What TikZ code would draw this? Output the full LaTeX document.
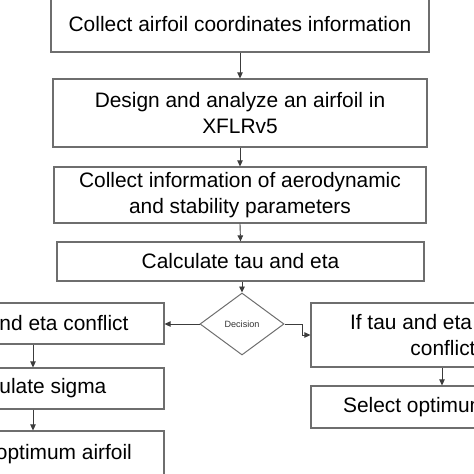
\documentclass[tikz,border=0pt]{standalone}
\usepackage{fontspec}
\setmainfont{Liberation Sans}
\usetikzlibrary{shapes.geometric,arrows.meta}
\definecolor{boxgray}{HTML}{6E6E6E}
\definecolor{linegray}{HTML}{3C3C3C}
\begin{document}
\begin{tikzpicture}[x=1pt,y=-1pt,
  box/.style={draw=boxgray, line width=1.2pt, rectangle, inner sep=0pt, align=center,
    font=\fontsize{20.9}{25.5}\selectfont, text=black},
  conn/.style={draw=linegray, line width=0.9pt, -{Triangle[length=6pt,width=5.5pt]}},
  decision/.style={draw=boxgray, line width=1pt, diamond, inner sep=0pt,
    minimum width=84pt, minimum height=62pt, font=\fontsize{9.1}{11}\selectfont, text=black!80}]
\useasboundingbox (0,0) rectangle (474,474);
\clip (0,0) rectangle (474,474);
\node[box, minimum width=378pt, minimum height=56pt] (b1) at (240,24) {Collect airfoil coordinates information};
\node[box, minimum width=374pt, minimum height=68pt] (b2) at (240,113) {Design and analyze an airfoil in\\XFLRv5};
\node[box, minimum width=372pt, minimum height=56pt] (b3) at (240,195) {Collect information of aerodynamic\\and stability parameters};
\node[box, minimum width=367pt, minimum height=39pt] (b4) at (240.5,261.5) {Calculate tau and eta};
\node[decision] (d) at (242,324) {Decision};
\node[box, minimum width=264pt, minimum height=41pt] (l1) at (32,323.5) {If tau and eta conflict};
\node[box, minimum width=264pt, minimum height=41pt] (l2) at (32,388.5) {Calculate sigma};
\node[box, minimum width=264pt, minimum height=46pt] (l3) at (32,454) {Select optimum airfoil};
\node[box, minimum width=264pt, minimum height=64pt] (r1) at (443,335) {If tau and eta do not\\conflict};
\node[box, minimum width=264pt, minimum height=42pt] (r2) at (443,407) {Select optimum airfoil};
\draw[conn] (b1.south) -- (b2.north);
\draw[conn] (b2.south) -- (b3.north);
\draw[conn] (b3.south) -- (b4.north);
\draw[conn] (b4.south -| d.north) -- (d.north);
\draw[conn] (d.west) -- (d.west -| l1.east);
\coordinate (elbow) at (302,324);
\draw[conn] (d.east) -- (elbow) |- (r1.west);
\draw[conn] ([xshift=1pt]l1.south) -- ([xshift=1pt]l2.north);
\draw[conn] ([xshift=1pt]l2.south) -- ([xshift=1pt]l3.north);
\draw[conn] ([xshift=-1pt]r1.south) -- ([xshift=-1pt]r2.north);
\end{tikzpicture}
\end{document}
